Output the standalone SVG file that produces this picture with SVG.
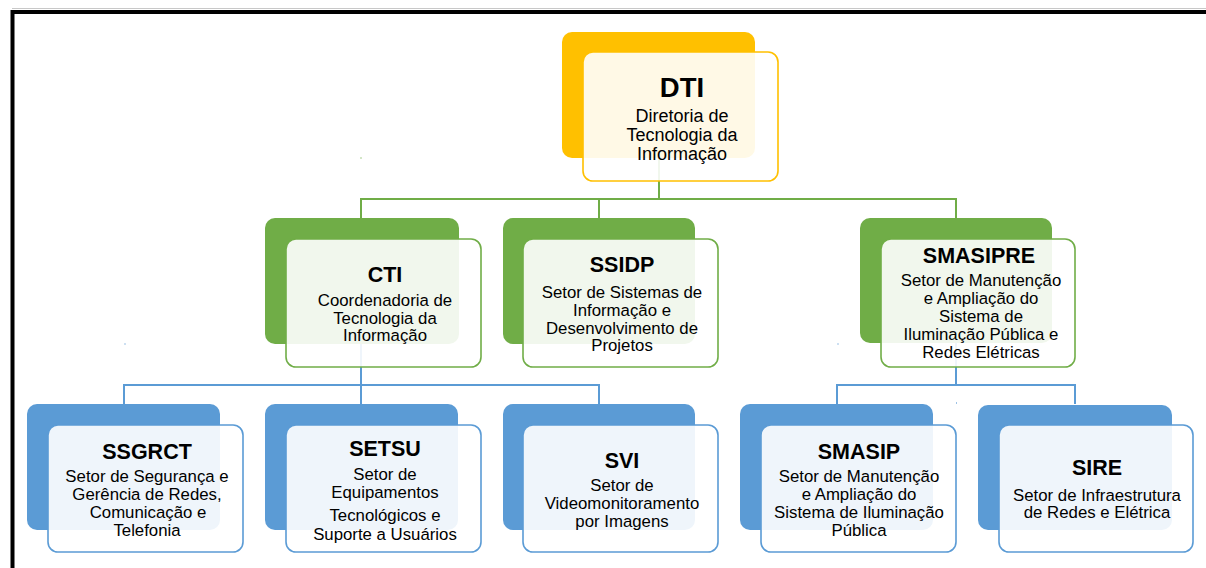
<svg xmlns="http://www.w3.org/2000/svg" width="1206" height="568" viewBox="0 0 1206 568">
<style>
text{font-family:"Liberation Sans",Arial,sans-serif;fill:#000;text-anchor:middle}
.t{font-weight:bold;font-size:21.5px}
.s{font-size:16.8px}
.ds{font-size:18px}
.fy{fill:#FFC000}
.fg{fill:#70AD47}
.fb{fill:#5B9BD5}
.front{fill:#fff;fill-opacity:0.9;stroke-width:1.6}
.ky{stroke:#FFC000}
.kg{stroke:#70AD47}
.kb{stroke:#5B9BD5}
.cg{stroke:#70AD47;stroke-width:2;fill:none}
.cb{stroke:#5B9BD5;stroke-width:2;fill:none}
</style>
<rect width="1206" height="568" fill="#fff"/>
<line x1="12" y1="8.5" x2="1206" y2="8.5" stroke="#c8c8c8" stroke-width="1"/>
<path d="M12.5 568 V12 H1206" fill="none" stroke="#000" stroke-width="4"/>
<g id="connectors">
<path class="cg" d="M659 158 V199 M361 218 V199 H956 V218 M599 199 V218"/>
<path class="cb" d="M361 344 V385 M124 404 V385 H599 V404 M361 385 V404"/>
<path class="cb" d="M956 343 V385 M837 404 V385 H1075 V404"/>
<rect x="360.5" y="157" width="1" height="2" fill="#70AD47" opacity="0.6"/>
<rect x="124.5" y="343" width="1" height="2" fill="#5B9BD5" opacity="0.6"/>
<rect x="837.5" y="343" width="1" height="2" fill="#5B9BD5" opacity="0.6"/>
</g>
<g id="DTI">
<rect class="fy" x="562" y="32" width="193" height="126" rx="10"/>
<rect class="front ky" x="583" y="52" width="195" height="129" rx="10"/>
<text x="682" y="97" style="font-weight:bold;font-size:27.5px">DTI</text>
<text class="ds" x="682" y="122">Diretoria de</text>
<text class="ds" x="682" y="141">Tecnologia da</text>
<text class="ds" x="682" y="160">Informação</text>
</g>
<g id="CTI">
<rect class="fg" x="265" y="218" width="194" height="126" rx="10"/>
<rect class="front kg" x="286" y="239" width="195" height="128" rx="10"/>
<text class="t" x="385" y="282">CTI</text>
<text class="s" x="385" y="306">Coordenadoria de</text>
<text class="s" x="385" y="324">Tecnologia da</text>
<text class="s" x="385" y="341">Informação</text>
</g>
<g id="SSIDP">
<rect class="fg" x="503" y="218" width="192" height="126" rx="10"/>
<rect class="front kg" x="523" y="239" width="195" height="128" rx="10"/>
<text class="t" x="622" y="272">SSIDP</text>
<text class="s" x="622" y="298">Setor de Sistemas de</text>
<text class="s" x="622" y="316">Informação e</text>
<text class="s" x="622" y="334">Desenvolvimento de</text>
<text class="s" x="622" y="351">Projetos</text>
</g>
<g id="SMASIPRE">
<rect class="fg" x="860" y="218" width="192" height="125" rx="10"/>
<rect class="front kg" x="881" y="239" width="194" height="128" rx="10"/>
<text class="t" x="979" y="263">SMASIPRE</text>
<text class="s" x="981" y="286">Setor de Manutenção</text>
<text class="s" x="981" y="304">e Ampliação do</text>
<text class="s" x="981" y="322">Sistema de</text>
<text class="s" x="981" y="340">Iluminação Pública e</text>
<text class="s" x="981" y="358">Redes Elétricas</text>
</g>
<g id="SSGRCT">
<rect class="fb" x="27" y="404" width="193" height="126" rx="10"/>
<rect class="front kb" x="48" y="425" width="195" height="127" rx="10"/>
<text class="t" x="147" y="459">SSGRCT</text>
<text class="s" x="147" y="482">Setor de Segurança e</text>
<text class="s" x="147" y="500">Gerência de Redes,</text>
<text class="s" x="148" y="518">Comunicação e</text>
<text class="s" x="147" y="536">Telefonia</text>
</g>
<g id="SETSU">
<rect class="fb" x="265" y="404" width="193" height="126" rx="10"/>
<rect class="front kb" x="286" y="425" width="195" height="127" rx="10"/>
<text class="t" x="385" y="456">SETSU</text>
<text class="s" x="385" y="480">Setor de</text>
<text class="s" x="385" y="498">Equipamentos</text>
<text class="s" x="385" y="521">Tecnológicos e</text>
<text class="s" x="385" y="540">Suporte a Usuários</text>
</g>
<g id="SVI">
<rect class="fb" x="503" y="404" width="192" height="126" rx="10"/>
<rect class="front kb" x="523" y="425" width="195" height="127" rx="10"/>
<text class="t" x="622" y="468">SVI</text>
<text class="s" x="622" y="491">Setor de</text>
<text class="s" x="622" y="509">Videomonitoramento</text>
<text class="s" x="622" y="527">por Imagens</text>
</g>
<g id="SMASIP">
<rect class="fb" x="740" y="404" width="193" height="126" rx="10"/>
<rect class="front kb" x="761" y="425" width="195" height="127" rx="10"/>
<text class="t" x="859" y="459">SMASIP</text>
<text class="s" x="859" y="482">Setor de Manutenção</text>
<text class="s" x="859" y="500">e Ampliação do</text>
<text class="s" x="859" y="518">Sistema de Iluminação</text>
<text class="s" x="859" y="536">Pública</text>
</g>
<g id="SIRE">
<rect class="fb" x="978" y="405" width="194" height="125" rx="10"/>
<rect class="front kb" x="999" y="425" width="194" height="127" rx="10"/>
<text class="t" x="1097" y="475">SIRE</text>
<text class="s" x="1097" y="501">Setor de Infraestrutura</text>
<text class="s" x="1097" y="518">de Redes e Elétrica</text>
</g>
<rect x="956" y="402" width="1" height="2" fill="#5B9BD5" opacity="0.6"/>
</svg>
